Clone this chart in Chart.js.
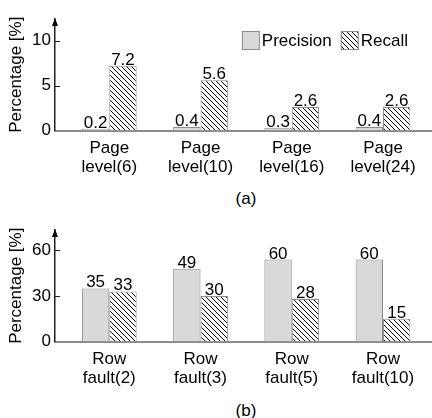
<!DOCTYPE html>
<html>
<head>
<meta charset="utf-8">
<script src="https://cdn.jsdelivr.net/npm/chart.js@4"></script>
<style>
body { margin: 0; background: #fff; width: 432px; height: 418px; position: relative; overflow: hidden;
       font-family: 'Liberation Sans', Arial, sans-serif; }
canvas { position: absolute; left: 0; }
.cap { position: absolute; width: 60px; text-align: center; font-size: 17px; line-height: 20px; color: #000; }
</style>
</head>
<body>
<canvas id="chartA" width="432" height="180" style="top:0"></canvas>
<div class="cap" style="left:216px; top:189px">(a)</div>
<canvas id="chartB" width="432" height="180" style="top:211px"></canvas>
<div class="cap" style="left:216px; top:401px">(b)</div>
<script>
const seriesNames = ['Precision', 'Recall'];

// (a)
const categoriesA = ['Page level(6)', 'Page level(10)', 'Page level(16)', 'Page level(24)'];
const precisionA = [0.2, 0.4, 0.3, 0.4];
const recallA = [7.2, 5.6, 2.6, 2.6];
const yTicksA = [0, 5, 10];

// (b) - bar heights as drawn, printed numbers kept apart
const categoriesB = ['Row fault(2)', 'Row fault(3)', 'Row fault(5)', 'Row fault(10)'];
const precisionB = [35, 48, 54, 54];
const precisionLabelsB = ['35', '49', '60', '60'];
const recallB = [33, 30, 28, 15];
const yTicksB = [0, 30, 60];

const FONT = "'Liberation Sans', Arial, sans-serif";
const FS = 17;
Chart.defaults.font.family = FONT;
Chart.defaults.color = '#000';

function makeHatch(ctx) {
    const c = document.createElement('canvas');
    c.width = 5; c.height = 5;
    const g = c.getContext('2d');
    g.fillStyle = '#fff';
    g.fillRect(0, 0, 5, 5);
    g.strokeStyle = '#000';
    g.lineWidth = 1;
    g.beginPath();
    g.moveTo(0, 0); g.lineTo(5, 5);
    g.moveTo(-1, 4); g.lineTo(1, 6);
    g.moveTo(4, -1); g.lineTo(6, 1);
    g.stroke();
    return ctx.createPattern(c, 'repeat');
}

// arrow, inward tick marks, value labels and the legend
const decor = {
    id: 'decor',
    afterDraw(chart) {
        const { ctx, chartArea } = chart;
        const y = chart.scales.y;
        ctx.save();

        ctx.fillStyle = '#000';
        ctx.beginPath();
        ctx.moveTo(chartArea.left, chartArea.top - 1);
        ctx.lineTo(chartArea.left - 3, chartArea.top + 7);
        ctx.lineTo(chartArea.left + 3, chartArea.top + 7);
        ctx.closePath();
        ctx.fill();

        ctx.strokeStyle = '#222';
        ctx.lineWidth = 1;
        y.ticks.forEach(t => {
            if (t.value === 0) return;
            const py = Math.round(y.getPixelForValue(t.value)) + 0.5;
            ctx.beginPath();
            ctx.moveTo(chartArea.left, py);
            ctx.lineTo(chartArea.left + 5, py);
            ctx.stroke();
        });

        ctx.font = FS + 'px ' + FONT;
        ctx.fillStyle = '#000';
        ctx.textAlign = 'center';
        ctx.textBaseline = 'alphabetic';
        chart.data.datasets.forEach((ds, i) => {
            chart.getDatasetMeta(i).data.forEach((bar, j) => {
                ctx.fillText(ds.valueLabels[j], bar.x, bar.y - 1);
            });
        });

        if (chart.options.plugins.decor.legend) {
            const dsets = chart.data.datasets;
            const widths = dsets.map(d => ctx.measureText(d.label).width);
            let total = 0;
            widths.forEach((w, i) => { total += 18 + 2 + w + (i < widths.length - 1 ? 9 : 0); });
            let x = chartArea.right - 24 - total;
            const top = chartArea.top + 12;
            ctx.textAlign = 'left';
            ctx.textBaseline = 'middle';
            dsets.forEach((d, i) => {
                ctx.fillStyle = d.backgroundColor;
                ctx.fillRect(x, top, 18, 19);
                ctx.strokeStyle = '#8c8c8c';
                ctx.strokeRect(x + 0.5, top + 0.5, 17, 18);
                ctx.fillStyle = '#000';
                ctx.fillText(d.label, x + 20, top + 10);
                x += 18 + 2 + widths[i] + 9;
            });
        }
        ctx.restore();
    }
};

function drawChart(id, cats, prec, rec, precLabels, recLabels, yMax, yTicks, showLegend) {
    const canvas = document.getElementById(id);
    const ctx = canvas.getContext('2d');
    return new Chart(ctx, {
        type: 'bar',
        data: {
            datasets: [{
                label: seriesNames[0],
                data: prec.map((v, i) => ({ x: i, y: v })),
                valueLabels: precLabels,
                backgroundColor: '#d9d9d9',
                borderColor: '#8c8c8c',
                borderWidth: 1
            }, {
                label: seriesNames[1],
                data: rec.map((v, i) => ({ x: i, y: v })),
                valueLabels: recLabels,
                backgroundColor: makeHatch(ctx),
                borderColor: '#8c8c8c',
                borderWidth: 1
            }]
        },
        options: {
            responsive: false,
            animation: false,
            categoryPercentage: 0.6,
            barPercentage: 1,
            layout: { padding: { top: 19, left: 0, right: 0, bottom: 0 } },
            plugins: {
                legend: { display: false },
                tooltip: { enabled: false },
                decor: { legend: showLegend }
            },
            scales: {
                x: {
                    type: 'linear',
                    offset: false,
                    min: -0.595,
                    max: 3.537,
                    afterBuildTicks: s => { s.ticks = cats.map((c, i) => ({ value: i })); },
                    afterFit: s => { s.height = 49.5; },
                    grid: { display: false },
                    border: { display: true, color: '#8c8c8c', width: 2 },
                    ticks: {
                        callback: v => {
                            const c = cats[v];
                            const k = c.indexOf(' ');
                            return [c.slice(0, k), c.slice(k + 1)];
                        },
                        font: { size: FS, lineHeight: 1.12 },
                        padding: 0,
                        maxRotation: 0,
                        autoSkip: false
                    }
                },
                y: {
                    min: 0,
                    max: yMax,
                    afterBuildTicks: s => { s.ticks = yTicks.map(v => ({ value: v })); },
                    afterFit: s => { s.width = 55; },
                    grid: { display: false, drawTicks: false },
                    border: { display: true, color: '#222', width: 1.5 },
                    ticks: { font: { size: FS }, padding: 4 },
                    title: {
                        display: true,
                        text: 'Percentage [%]',
                        font: { size: FS },
                        padding: { top: 6, bottom: 0 }
                    }
                }
            }
        },
        plugins: [decor]
    });
}

drawChart('chartA', categoriesA, precisionA, recallA,
    precisionA.map(String), recallA.map(String), 12.4, yTicksA, true);
drawChart('chartB', categoriesB, precisionB, recallB,
    precisionLabelsB, recallB.map(String), 73.5, yTicksB, false);
</script>
</body>
</html>
